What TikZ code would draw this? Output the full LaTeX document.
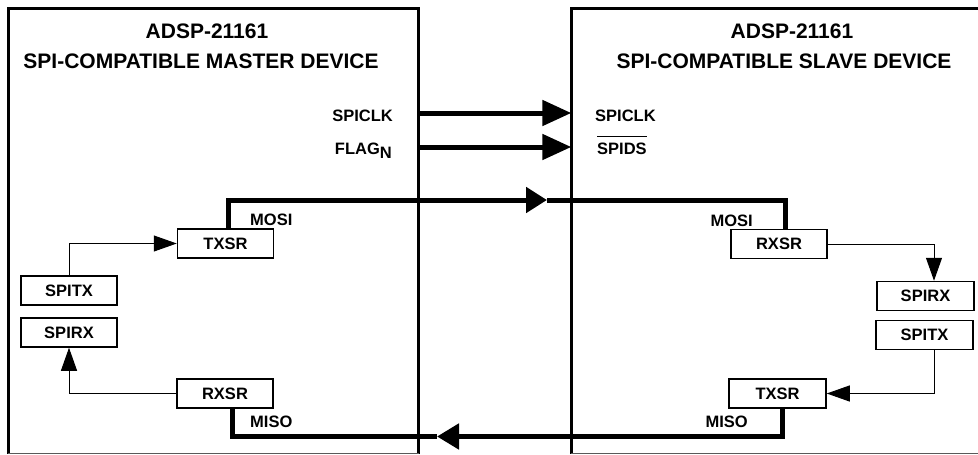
\documentclass[tikz,border=0pt]{standalone}
\usepackage{fontspec}
\setmainfont{Liberation Sans}
\usepackage{tikz}
\usetikzlibrary{arrows.meta,positioning,calc}

\begin{document}
\begin{tikzpicture}[x=1pt, y=-1pt,
    device/.style={rectangle, draw=none, inner sep=0pt},
    frame/.style={line width=3pt},
    baseline/.style={line width=1.2pt, black!65},
    title/.style={font=\bfseries\fontsize{21}{25}\selectfont, inner sep=0pt},
    sig/.style={font=\bfseries\fontsize{16.5}{20}\selectfont, inner sep=0pt},
    reg/.style={draw, line width=1.5pt, minimum width=96pt, minimum height=29pt,
                inner sep=0pt, font=\bfseries\fontsize{16.5}{20}\selectfont},
    bus/.style={line width=5pt},
    busarrow/.style={line width=5pt, -{Triangle[length=29pt,width=25pt]}},
    link/.style={line width=1pt, -{Triangle[length=23pt,width=16pt]}}
]
    \useasboundingbox (0,0) rectangle (978,455);

    \node[device, minimum width=410pt, minimum height=444.5pt] (master) at (213.5,231.25) {};
    \node[device, minimum width=418.5pt, minimum height=444.5pt] (slave) at (780.75,231.25) {};
    \draw[frame] (master.south west) |- (master.north east) -- (master.south east);
    \draw[baseline] (master.south west) -- (master.south east);
    \draw[frame] (slave.south west) |- (slave.north east);
    \draw[baseline] (slave.south west) -- (slave.south east);

    \node[title] (mname) at (207,31) {ADSP-21161};
    \node[title] (mrole) at (201,61) {SPI-COMPATIBLE MASTER DEVICE};
    \node[title] (sname) at (792,31) {ADSP-21161};
    \node[title] (srole) at (784,61) {SPI-COMPATIBLE SLAVE DEVICE};

    \node[sig, anchor=base east] (mclk) at (393,121) {SPICLK};
    \node[sig, anchor=base east] (mflag) at (392,154) {FLAG\raisebox{-4pt}{N}};
    \node[sig, anchor=base west] (sclk) at (595,121) {SPICLK};
    \node[sig, anchor=base west] (sds) at (597,154) {$\overline{\mbox{SPIDS\rule{0pt}{16pt}}}$};

    \node[reg] (mtx) at (225.5,243.5) {TXSR};
    \node[reg] (mspitx) at (69,290.5) {SPITX};
    \node[reg] (mspirx) at (69,332.5) {SPIRX};
    \node[reg] (mrx) at (225,393.5) {RXSR};

    \node[reg] (srx) at (779,244) {RXSR};
    \node[reg, minimum width=97pt] (sspirx) at (925.5,296) {SPIRX};
    \node[reg, minimum width=97pt] (sspitx) at (924.5,335) {SPITX};
    \node[reg, minimum width=97pt] (stx) at (777.5,393.5) {TXSR};

    \node[sig, anchor=base west] (mmosi) at (250,225) {MOSI};
    \node[sig, anchor=base west] (mmiso) at (250,427) {MISO};
    \node[sig, anchor=base east] (smosi) at (753,226) {MOSI};
    \node[sig, anchor=base east] (smiso) at (748,427) {MISO};

    \coordinate (mositip) at (547,200);
    \coordinate (misotip) at (437,436.5);

    \draw[busarrow] ([yshift=8pt]mclk.base -| master.east) -- ([yshift=8pt]sclk.base -| slave.west);
    \draw[busarrow] ([yshift=7pt]mflag.base -| master.east) -- ([yshift=7pt]sds.base -| slave.west);

    \draw[bus, -{Triangle[length=21pt,width=25pt]}] ([xshift=3pt]mtx.north) |- (mositip);
    \draw[bus] (mositip) -| ([xshift=6pt]srx.north);
    \draw[bus, -{Triangle[length=22pt,width=25pt]}] ([xshift=5pt]stx.south) |- (misotip);
    \draw[bus] (misotip) -| ([xshift=7pt]mrx.south);

    \draw[link] (mspitx.north) |- (mtx.west);
    \draw[link] (mrx.west) -| (mspirx.south);
    \draw[link] (srx.east) -| ([xshift=8.5pt]sspirx.north);
    \draw[link] ([xshift=9.5pt]sspitx.south) |- (stx.east);
\end{tikzpicture}
\end{document}
